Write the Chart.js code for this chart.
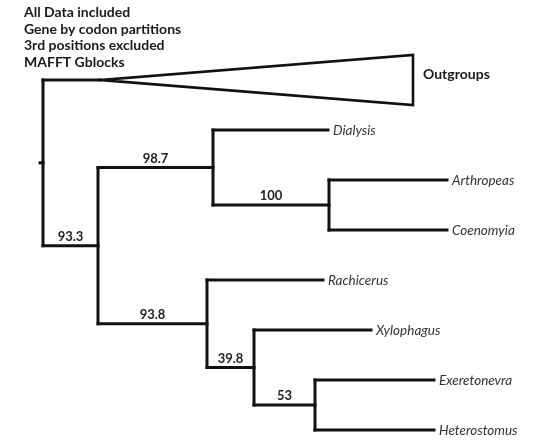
<!DOCTYPE html>
<html>
<head>
<meta charset="utf-8">
<script src="https://cdn.jsdelivr.net/npm/chart.js@4.4.0/dist/chart.umd.min.js"></script>
<style>
  html, body { margin: 0; padding: 0; background: #fff; }
  #wrap { width: 533px; height: 440px; }
</style>
</head>
<body>
<div id="wrap"><canvas id="tree" width="533" height="440"></canvas></div>
<script>
// Analysis settings shown in the header
const titleLines = ["All Data included", "Gene by codon partitions", "3rd positions excluded", "MAFFT Gblocks"];

// Terminal taxa, top to bottom
const taxa = ["Outgroups", "Dialysis", "Arthropeas", "Coenomyia", "Rachicerus", "Xylophagus", "Exeretonevra", "Heterostomus"];
const taxonParents = ["root", "n2", "n3", "n3", "n4", "n5", "n6", "n6"];
const taxonBranchLengths = [57, 115, 118, 118, 116, 117, 119, 119];
// Depth of collapsed clades (drawn as triangles); 0 = single taxon
const collapsedDepths = [313, 0, 0, 0, 0, 0, 0, 0];

// Internal nodes, listed parent before child
const nodeNames = ["root", "n1", "n2", "n3", "n4", "n5", "n6"];
const nodeParents = [null, "root", "n1", "n2", "n1", "n4", "n5"];
const nodeBranchLengths = [3, 55, 115, 116, 109, 47, 61];
// Bootstrap support on the branch leading to each node
const nodeSupport = [null, 93.3, 98.7, 100, 93.8, 39.8, 53];

// ---- tree layout ----
const depth = {}, yPos = {}, kids = {};
nodeNames.forEach((n, i) => {
  const p = nodeParents[i];
  depth[n] = (p ? depth[p] : 0) + nodeBranchLengths[i];
  kids[n] = [];
  if (p) kids[p].push(n);
});
taxa.forEach((t, i) => {
  const p = taxonParents[i];
  depth[t] = depth[p] + taxonBranchLengths[i];
  yPos[t] = i;
  kids[p].push(t);
});
for (let i = nodeNames.length - 1; i >= 0; i--) {
  const n = nodeNames[i];
  const ys = kids[n].map(k => yPos[k]);
  yPos[n] = (Math.min(...ys) + Math.max(...ys)) / 2;
}

const INK = '#111';
const segments = [];
const seg = (pts, w) => segments.push({
  data: pts, showLine: true, borderColor: INK, borderWidth: w || 3,
  pointRadius: 0, fill: false, tension: 0, borderCapStyle: 'square', borderJoinStyle: 'miter'
});

// root stub
seg([{ x: 0, y: yPos.root }, { x: depth.root, y: yPos.root }]);
// horizontal branches
nodeNames.forEach((n, i) => {
  const p = nodeParents[i];
  if (p) seg([{ x: depth[p], y: yPos[n] }, { x: depth[n], y: yPos[n] }]);
});
taxa.forEach((t, i) => {
  const p = taxonParents[i];
  seg([{ x: depth[p], y: yPos[t] }, { x: depth[t], y: yPos[t] }]);
});
// vertical connectors
nodeNames.forEach(n => {
  const ys = kids[n].map(k => yPos[k]);
  seg([{ x: depth[n], y: Math.min(...ys) }, { x: depth[n], y: Math.max(...ys) }]);
});
// collapsed clades
taxa.forEach((t, i) => {
  const cd = collapsedDepths[i];
  if (!cd) return;
  const d = depth[t], y = yPos[t];
  seg([{ x: d, y: y }, { x: d + cd, y: y - 0.5 }, { x: d + cd, y: y + 0.5 }, { x: d, y: y }], 2.6);
});

// ---- text labels ----
const labelPlugin = {
  id: 'treeLabels',
  afterDatasetsDraw(chart) {
    const { ctx, scales: { x, y } } = chart;
    ctx.save();
    // header
    ctx.fillStyle = '#1a1a1a';
    ctx.font = 'bold 14px Lato';
    ctx.textAlign = 'left';
    ctx.textBaseline = 'alphabetic';
    titleLines.forEach((s, i) => ctx.fillText(s, 24, 17 + i * 16.7));

    // tip labels
    taxa.forEach((t, i) => {
      const cd = collapsedDepths[i];
      if (cd) {
        ctx.font = 'bold 14px Lato';
        ctx.fillStyle = '#1a1a1a';
        ctx.textBaseline = 'middle';
        ctx.fillText(t, x.getPixelForValue(depth[t] + cd) + 10, y.getPixelForValue(yPos[t]) - 6);
      } else {
        ctx.font = 'italic 13.5px Lato';
        ctx.fillStyle = '#333';
        ctx.textBaseline = 'middle';
        ctx.fillText(t, x.getPixelForValue(depth[t]) + 5, y.getPixelForValue(yPos[t]) + 1);
      }
    });

    // support values
    ctx.font = 'bold 13px Lato';
    ctx.fillStyle = '#222';
    ctx.textAlign = 'center';
    ctx.textBaseline = 'alphabetic';
    nodeNames.forEach((n, i) => {
      const v = nodeSupport[i], p = nodeParents[i];
      if (v == null || !p) return;
      const cx = (x.getPixelForValue(depth[p]) + x.getPixelForValue(depth[n])) / 2;
      ctx.fillText(String(v), cx, y.getPixelForValue(yPos[n]) - 5);
    });
    ctx.restore();
  }
};

new Chart(document.getElementById('tree'), {
  type: 'scatter',
  data: { datasets: segments },
  options: {
    responsive: false,
    animation: false,
    layout: { padding: 0 },
    plugins: { legend: { display: false }, tooltip: { enabled: false } },
    scales: {
      x: { type: 'linear', min: -40, max: 493, display: false },
      y: { type: 'linear', min: -1.6, max: 7.2, reverse: true, display: false }
    }
  },
  plugins: [labelPlugin]
});
</script>
</body>
</html>
